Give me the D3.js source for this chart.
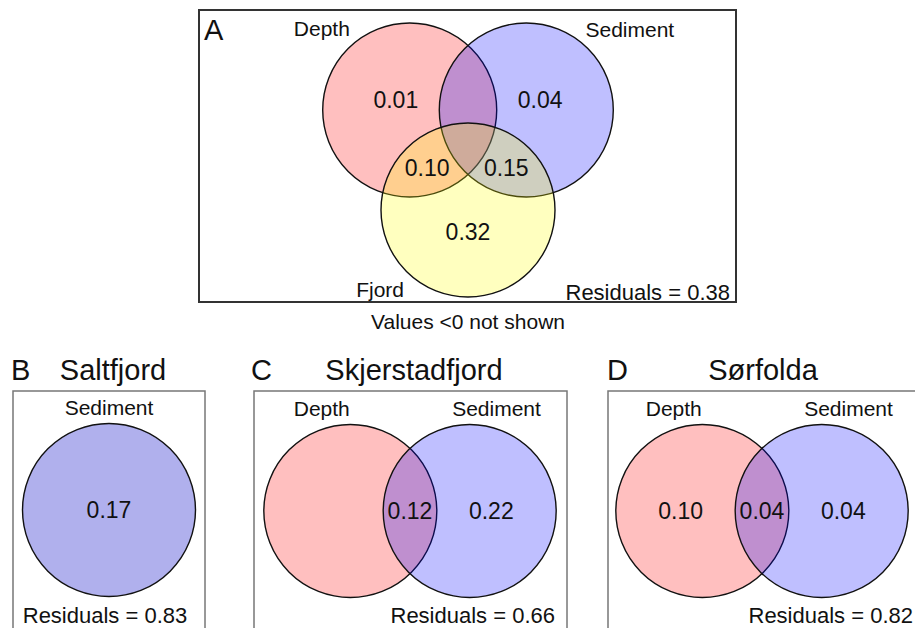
<!DOCTYPE html>
<html>
<head>
<meta charset="utf-8">
<script src="https://d3js.org/d3.v7.min.js"></script>
<style>
  body { margin: 0; background: #fff; }
  text { font-family: "Liberation Sans", Arial, sans-serif; fill: #111; }
</style>
</head>
<body>
<div id="chart"></div>
<script>
// panel data
var panelLetters = ["A", "B", "C", "D"];
var panelTitles = ["", "Saltfjord", "Skjerstadfjord", "Sørfolda"];
var panelSets = [["Depth", "Sediment", "Fjord"], ["Sediment"], ["Depth", "Sediment"], ["Depth", "Sediment"]];
var residuals = [0.38, 0.83, 0.66, 0.82];
// fractions per region (null = negative, not shown)
var regionsA = [["Depth", 0.01], ["Sediment", 0.04], ["Depth&Sediment", null], ["Depth&Fjord", 0.10],
                ["Sediment&Fjord", 0.15], ["Fjord", 0.32], ["Depth&Sediment&Fjord", null]];
var regionsB = [["Sediment", 0.17]];
var regionsC = [["Depth", null], ["Depth&Sediment", 0.12], ["Sediment", 0.22]];
var regionsD = [["Depth", 0.10], ["Depth&Sediment", 0.04], ["Sediment", 0.04]];
var panelRegions = [regionsA, regionsB, regionsC, regionsD];

// schematic layouts (unit = circle radius), like vegan showvarparts
var layouts = {
  1: {
    centers: { Sediment: [0, 0] },
    labels: { Sediment: [0, -1.18] },
    regions: { Sediment: [0, 0] }
  },
  2: {
    centers: { Depth: [-0.69, 0], Sediment: [0.69, 0] },
    labels: { Depth: [-1.02, -1.18], Sediment: [1.0, -1.18] },
    regions: { "Depth": [-0.94, 0], "Depth&Sediment": [0, 0], "Sediment": [0.94, 0] }
  },
  3: {
    centers: { Depth: [-0.67, -0.38], Sediment: [0.67, -0.38], Fjord: [0, 0.77] },
    labels: { Depth: [-1.68, -1.32], Sediment: [1.86, -1.30], Fjord: [-1.01, 1.68] },
    regions: { "Depth": [-0.83, -0.49], "Sediment": [0.83, -0.49], "Depth&Sediment": [0, -0.55],
               "Depth&Fjord": [-0.47, 0.29], "Sediment&Fjord": [0.44, 0.29], "Fjord": [0, 1.02],
               "Depth&Sediment&Fjord": [0, -0.1] }
  }
};

var setColor = { Depth: "rgba(255,0,0,0.25)", Sediment: "rgba(0,0,255,0.25)", Fjord: "rgba(255,255,0,0.25)" };

// panel frames and placement
var frames = [
  { box: [199, 10, 736, 302], origin: [468, 143], r: 87, stroke: "#333", sw: 2,
    letter: [204, 30], title: null, resid: [730, 292, "end"] },
  { box: [13, 391, 205, 660], origin: [109, 510], r: 86.5, stroke: "#777", sw: 1.5,
    letter: [11, 370], title: [113, 370], resid: [105, 615, "middle"] },
  { box: [254, 391, 567, 660], origin: [410, 511], r: 86.5, stroke: "#777", sw: 1.5,
    letter: [251, 370], title: [414, 370], resid: [555, 615, "end"] },
  { box: [608, 391, 940, 660], origin: [762, 511], r: 86.5, stroke: "#777", sw: 1.5,
    letter: [607, 370], title: [763, 370], resid: [913, 615, "end"] }
];

var W = 915, H = 628;
var svg = d3.select("#chart").append("svg")
  .attr("width", W).attr("height", H);

var fmt = d3.format(".2f");

panelLetters.forEach(function (letter, i) {
  var f = frames[i];
  var sets = panelSets[i];
  var lay = layouts[sets.length];
  var x = d3.scaleLinear().domain([0, 1]).range([f.origin[0], f.origin[0] + f.r]);
  var y = d3.scaleLinear().domain([0, 1]).range([f.origin[1], f.origin[1] + f.r]);
  var g = svg.append("g").attr("class", "panel");

  g.append("rect")
    .attr("x", f.box[0]).attr("y", f.box[1])
    .attr("width", f.box[2] - f.box[0]).attr("height", f.box[3] - f.box[1])
    .attr("fill", "none").attr("stroke", f.stroke).attr("stroke-width", f.sw);

  // circles
  g.selectAll("circle.set")
    .data(sets)
    .enter().append("circle")
    .attr("class", "set")
    .attr("cx", function (d) { return x(lay.centers[d][0]); })
    .attr("cy", function (d) { return y(lay.centers[d][1]); })
    .attr("r", x(1) - x(0))
    .attr("fill", function (d) { return sets.length === 1 ? "rgba(80,80,215,0.45)" : setColor[d]; })
    .attr("stroke", "#111")
    .attr("stroke-width", 1.4);

  // set names
  g.selectAll("text.setname")
    .data(sets)
    .enter().append("text")
    .attr("class", "setname")
    .attr("x", function (d) { return x(lay.labels[d][0]); })
    .attr("y", function (d) { return y(lay.labels[d][1]); })
    .attr("text-anchor", "middle")
    .attr("dominant-baseline", "central")
    .style("font-size", "21px")
    .text(function (d) { return d; });

  // region values
  g.selectAll("text.value")
    .data(panelRegions[i].filter(function (d) { return d[1] !== null; }))
    .enter().append("text")
    .attr("class", "value")
    .attr("x", function (d) { return x(lay.regions[d[0]][0]); })
    .attr("y", function (d) { return y(lay.regions[d[0]][1]); })
    .attr("text-anchor", "middle")
    .attr("dominant-baseline", "central")
    .style("font-size", "23px")
    .text(function (d) { return fmt(d[1]); });

  g.append("text")
    .attr("x", f.resid[0]).attr("y", f.resid[1])
    .attr("text-anchor", f.resid[2])
    .attr("dominant-baseline", "central")
    .style("font-size", "22px")
    .text("Residuals = " + fmt(residuals[i]));

  g.append("text")
    .attr("x", f.letter[0]).attr("y", f.letter[1])
    .attr("dominant-baseline", "central")
    .style("font-size", "29px")
    .text(letter);

  if (f.title) {
    g.append("text")
      .attr("x", f.title[0]).attr("y", f.title[1])
      .attr("text-anchor", "middle")
      .attr("dominant-baseline", "central")
      .style("font-size", "29px")
      .text(panelTitles[i]);
  }
});

svg.append("text")
  .attr("x", 468).attr("y", 321)
  .attr("text-anchor", "middle")
  .attr("dominant-baseline", "central")
  .style("font-size", "21px")
  .text("Values <0 not shown");
</script>
</body>
</html>
